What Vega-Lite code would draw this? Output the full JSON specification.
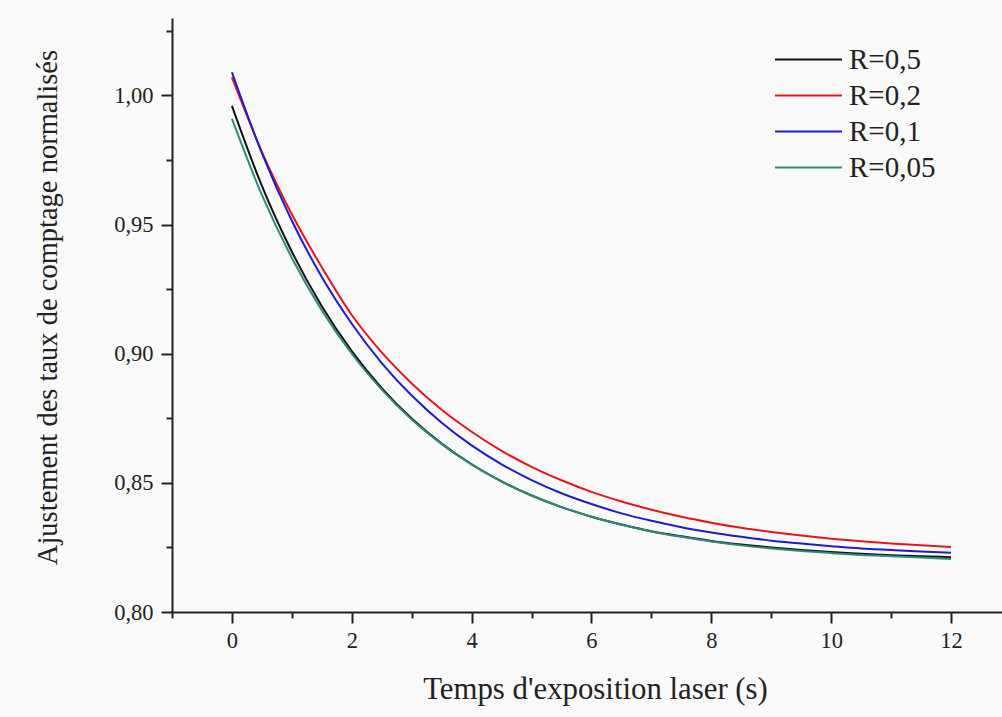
{
  "$schema": "https://vega.github.io/schema/vega-lite/v6.json",
  "width": 830,
  "height": 594,
  "autosize": {"type": "none"},
  "padding": {"left": 172, "top": 18, "right": 0, "bottom": 105},
  "background": "#fafafa",
  "config": {
    "view": {"stroke": null},
    "font": "Liberation Serif",
    "axis": {"labelFont": "Liberation Serif", "titleFont": "Liberation Serif", "labelColor": "#222", "titleColor": "#222", "titleFontWeight": "normal", "domainColor": "#222", "tickColor": "#222", "domainWidth": 2, "tickWidth": 2, "grid": false},
    "legend": {"labelFont": "Liberation Serif", "labelColor": "#222"}
  },
  "data": {"values": [
    {"x": 0, "R=0,5": 0.9960, "R=0,2": 1.0070, "R=0,1": 1.0090, "R=0,05": 0.9910},
    {"x": 0.5, "R=0,5": 0.9650, "R=0,2": 0.9782, "R=0,1": 0.9777, "R=0,05": 0.9615},
    {"x": 1, "R=0,5": 0.9395, "R=0,2": 0.9540, "R=0,1": 0.9515, "R=0,05": 0.9371},
    {"x": 1.5, "R=0,5": 0.9184, "R=0,2": 0.9335, "R=0,1": 0.9297, "R=0,05": 0.9168},
    {"x": 2, "R=0,5": 0.9010, "R=0,2": 0.9150, "R=0,1": 0.9116, "R=0,05": 0.9000},
    {"x": 2.5, "R=0,5": 0.8867, "R=0,2": 0.9005, "R=0,1": 0.8964, "R=0,05": 0.8861},
    {"x": 3, "R=0,5": 0.8749, "R=0,2": 0.8885, "R=0,1": 0.8838, "R=0,05": 0.8745},
    {"x": 3.5, "R=0,5": 0.8652, "R=0,2": 0.8783, "R=0,1": 0.8733, "R=0,05": 0.8650},
    {"x": 4, "R=0,5": 0.8572, "R=0,2": 0.8698, "R=0,1": 0.8645, "R=0,05": 0.8571},
    {"x": 4.5, "R=0,5": 0.8506, "R=0,2": 0.8624, "R=0,1": 0.8572, "R=0,05": 0.8505},
    {"x": 5, "R=0,5": 0.8451, "R=0,2": 0.8562, "R=0,1": 0.8511, "R=0,05": 0.8451},
    {"x": 5.5, "R=0,5": 0.8406, "R=0,2": 0.8510, "R=0,1": 0.8460, "R=0,05": 0.8406},
    {"x": 6, "R=0,5": 0.8369, "R=0,2": 0.8465, "R=0,1": 0.8418, "R=0,05": 0.8369},
    {"x": 6.5, "R=0,5": 0.8339, "R=0,2": 0.8428, "R=0,1": 0.8382, "R=0,05": 0.8338},
    {"x": 7, "R=0,5": 0.8313, "R=0,2": 0.8396, "R=0,1": 0.8353, "R=0,05": 0.8312},
    {"x": 7.5, "R=0,5": 0.8293, "R=0,2": 0.8369, "R=0,1": 0.8328, "R=0,05": 0.8291},
    {"x": 8, "R=0,5": 0.8275, "R=0,2": 0.8346, "R=0,1": 0.8308, "R=0,05": 0.8273},
    {"x": 8.5, "R=0,5": 0.8261, "R=0,2": 0.8326, "R=0,1": 0.8291, "R=0,05": 0.8258},
    {"x": 9, "R=0,5": 0.8250, "R=0,2": 0.8310, "R=0,1": 0.8276, "R=0,05": 0.8246},
    {"x": 9.5, "R=0,5": 0.8240, "R=0,2": 0.8296, "R=0,1": 0.8265, "R=0,05": 0.8236},
    {"x": 10, "R=0,5": 0.8232, "R=0,2": 0.8284, "R=0,1": 0.8255, "R=0,05": 0.8228},
    {"x": 10.5, "R=0,5": 0.8226, "R=0,2": 0.8274, "R=0,1": 0.8246, "R=0,05": 0.8221},
    {"x": 11, "R=0,5": 0.8220, "R=0,2": 0.8265, "R=0,1": 0.8240, "R=0,05": 0.8216},
    {"x": 11.5, "R=0,5": 0.8216, "R=0,2": 0.8258, "R=0,1": 0.8234, "R=0,05": 0.8211},
    {"x": 12, "R=0,5": 0.8212, "R=0,2": 0.8252, "R=0,1": 0.8229, "R=0,05": 0.8205}
  ]},
  "transform": [
    {"fold": ["R=0,5", "R=0,2", "R=0,1", "R=0,05"], "as": ["serie", "v"]}
  ],
  "resolve": {"axis": {"x": "independent", "y": "independent"}},
  "layer": [
    {
      "mark": {"type": "line", "strokeWidth": 2, "interpolate": "monotone"},
      "encoding": {
        "x": {"field": "x", "type": "quantitative",
          "scale": {"domain": [-1, 12.85], "nice": false, "zero": false},
          "axis": {"orient": "bottom", "values": [0, 2, 4, 6, 8, 10, 12], "tickSize": 11, "labelFontSize": 22.5, "labelPadding": 6,
            "title": "Temps d'exposition laser (s)", "titleFontSize": 30.8, "titleBaseline": "alphabetic", "titleX": 423, "titleY": 86, "titleAnchor": null, "titleAlign": "center"}},
        "y": {"field": "v", "type": "quantitative",
          "scale": {"domain": [0.8, 1.03], "nice": false, "zero": false},
          "axis": {"orient": "left", "values": [0.8, 0.85, 0.9, 0.95, 1.0], "tickSize": 11, "labelFontSize": 22.5, "labelPadding": 8,
            "labelExpr": "replace(format(datum.value, '.2f'), '.', ',')",
            "title": "Ajustement des taux de comptage normalisés", "titleFontSize": 28.5, "titleBaseline": "alphabetic", "titleAngle": -90, "titleX": -116, "titleY": 289, "titleAnchor": null, "titleAlign": "center"}},
        "color": {"field": "serie", "type": "nominal",
          "scale": {"domain": ["R=0,5", "R=0,2", "R=0,1", "R=0,05"], "range": ["#111111", "#e8141c", "#1c1ccc", "#2e8b7a"]},
          "legend": {"title": null, "orient": "none", "legendX": 622, "legendY": 27, "symbolType": "M-3,0H3", "symbolSize": 499, "symbolStrokeWidth": 2, "labelFontSize": 29, "labelOffset": 26, "rowPadding": 6}},
        "order": {"field": "serie"}
      }
    },
    {
      "mark": {"type": "rule", "opacity": 0},
      "encoding": {
        "x": {"field": "x", "type": "quantitative",
          "axis": {"orient": "bottom", "offset": 0, "values": [-1, 1, 3, 5, 7, 9, 11], "tickSize": 6, "labels": false, "title": null, "domain": false}},
        "y": {"field": "v", "type": "quantitative",
          "axis": {"orient": "left", "offset": 0, "values": [0.825, 0.875, 0.925, 0.975, 1.025], "tickSize": 6, "labels": false, "title": null, "domain": false}}
      }
    }
  ]
}
